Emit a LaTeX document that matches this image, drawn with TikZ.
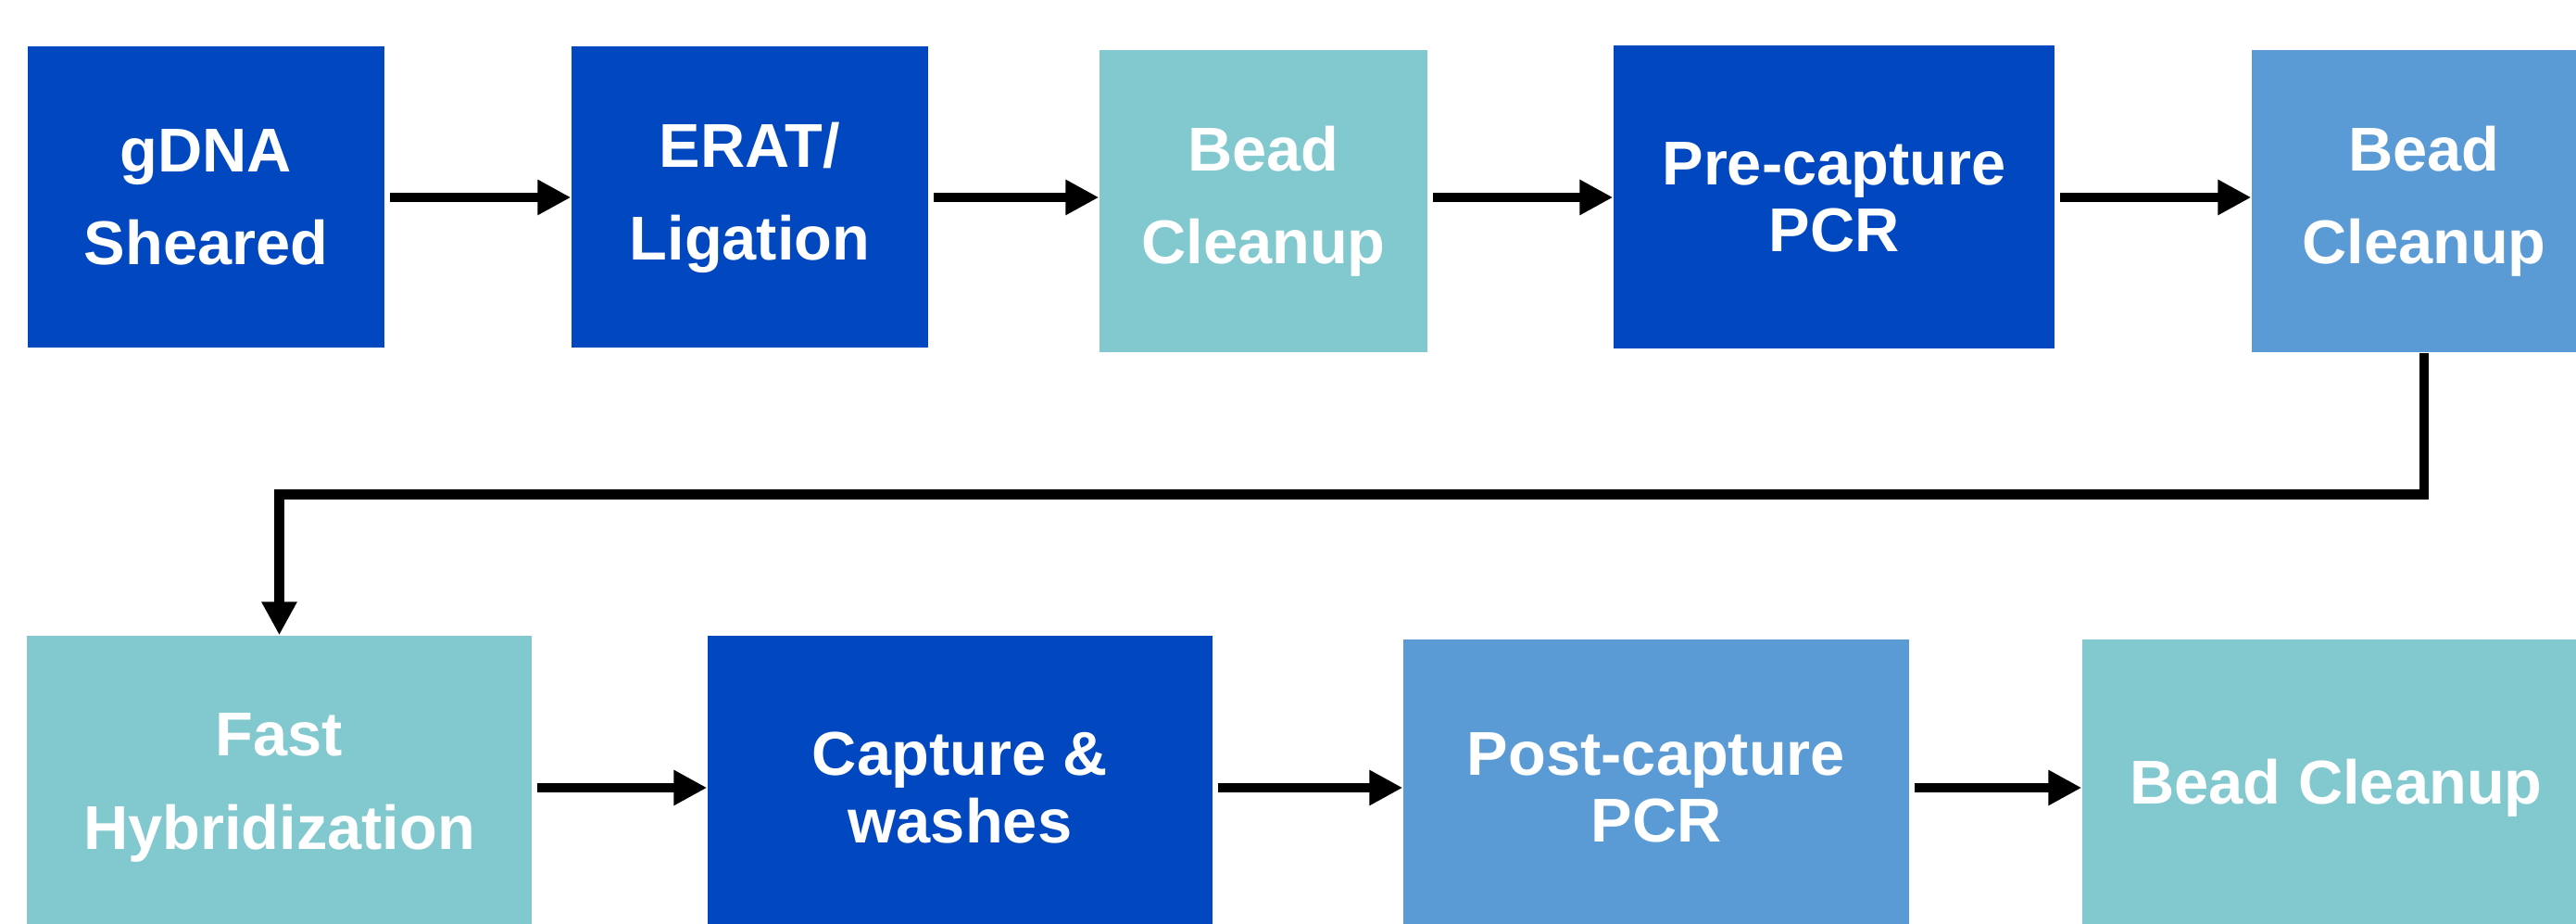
\documentclass[tikz,border=0pt]{standalone}
\usepackage{fontspec}
\setmainfont{Liberation Sans}
\usepackage{tikz}
\definecolor{DarkBlue}{HTML}{0047C0}
\definecolor{MidBlue}{HTML}{5B9BD5}
\definecolor{LightTeal}{HTML}{82C9CF}
\usetikzlibrary{arrows.meta,positioning}
\tikzset{
    stepbox/.style={rectangle, inner sep=0pt, align=center, text=white,
        font=\fontsize{19}{20.5}\selectfont\bfseries},
    flow/.style={line width=3.1pt}
}

\begin{document}
\begin{tikzpicture}[->,>={Triangle[width=0.36cm,length=0.36cm]}]
    \useasboundingbox (0,0) rectangle (27.81,9.97);
    \clip (0,0) rectangle (27.81,9.97);

    % Draw the top row of steps
    \node[stepbox, fill=DarkBlue, minimum width=3.85cm, minimum height=3.25cm] (s1) at (2.225,7.84) {gDNA\\[8pt]Sheared};
    \node[stepbox, fill=DarkBlue, minimum width=3.85cm, minimum height=3.25cm] (s2) at (8.095,7.84) {ERAT/\\[8pt]Ligation};
    \node[stepbox, fill=LightTeal, minimum width=3.54cm, minimum height=3.26cm] (s3) at (13.64,7.80) {Bead\\[8pt]Cleanup};
    \node[stepbox, fill=DarkBlue, minimum width=4.76cm, minimum height=3.27cm] (s4) at (19.80,7.84) {Pre-capture\\PCR};
    \node[stepbox, fill=MidBlue, minimum width=3.72cm, minimum height=3.26cm] (s5) at (26.17,7.80) {Bead\\[8pt]Cleanup};

    % Draw the bottom row of steps
    \node[stepbox, fill=LightTeal, minimum width=5.45cm, minimum height=3.28cm] (s6) at (3.015,1.47) {Fast\\[8pt]Hybridization};
    \node[stepbox, fill=DarkBlue, minimum width=5.45cm, minimum height=3.28cm] (s7) at (10.365,1.47) {Capture \&\\washes};
    \node[stepbox, fill=MidBlue, minimum width=5.46cm, minimum height=3.2cm] (s8) at (17.88,1.47) {Post-capture\\PCR};
    \node[stepbox, fill=LightTeal, minimum width=5.48cm, minimum height=3.2cm] (s9) at (25.22,1.47) {Bead Cleanup};

    % Draw the arrows along each row
    \foreach \a/\b in {s1/s2, s2/s3, s3/s4, s4/s5}{
        \draw[flow, shorten <=0.05cm] (\a.east |- s1.east) -- (\b.west |- s1.east);
    }
    \foreach \a/\b in {s6/s7, s7/s8, s8/s9}{
        \draw[flow, shorten <=0.05cm] (\a.east) -- (\a.east -| \b.west);
    }

    % Draw the return line down to the second row
    \draw[flow] (s5.south) -- ++(0,-1.53) -| (s6.north);
\end{tikzpicture}
\end{document}
